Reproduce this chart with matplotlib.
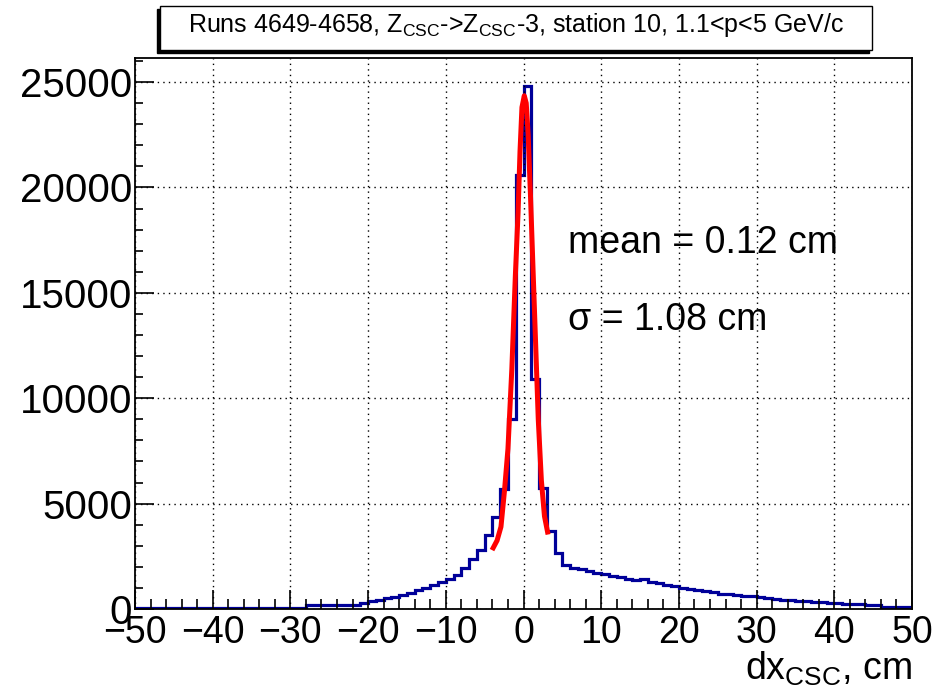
import numpy as np
import matplotlib
matplotlib.use('Agg')
import matplotlib.pyplot as plt
from matplotlib.patches import Rectangle
from matplotlib.ticker import MultipleLocator

plt.rcParams['font.family'] = ['Liberation Sans', 'DejaVu Sans']
plt.rcParams['mathtext.fontset'] = 'custom'
plt.rcParams['mathtext.rm'] = 'Liberation Sans'
plt.rcParams['mathtext.it'] = 'Liberation Sans:italic'

# dx_CSC histogram, 1 cm bins from -50 to 50
bin_edges = np.arange(-50, 51, 1)
counts = ([60] * 22 + [170] * 7 +
          [280, 380, 440, 500, 560, 650, 780, 880, 980, 1120, 1260,
           1420, 1600, 1950, 2370, 2790, 3500, 4350, 5700, 9000, 20600,
           24830, 10930, 5760, 3700, 2650, 2100, 1950,
           1880, 1800, 1720, 1650, 1580, 1500, 1430, 1360, 1420, 1300,
           1230, 1160, 1080, 1000, 960, 900, 860, 790, 730, 700,
           660, 620, 600, 560, 530, 480, 430, 450, 400, 380,
           350, 330, 280, 270, 260, 250, 240, 190, 180, 100,
           95, 90, 90])

# fitted curve
fit_x = [-3.9, -3.4, -2.9, -2.45, -2.0, -1.5, -1.05, -0.7, -0.45, -0.2,
         0.1, 0.35, 0.6, 0.9, 1.2, 1.55, 1.9, 2.3, 2.7, 3.1]
fit_y = [2900, 3250, 3900, 5600, 7600, 11400, 15800, 18800, 21700, 23800,
         24350, 24000, 22500, 19600, 16400, 12700, 9000, 6100, 4400, 3650]

title = r'Runs 4649-4658, Z$_{\mathrm{CSC}}$->Z$_{\mathrm{CSC}}$-3, station 10, 1.1<p<5 GeV/c'
mean_text = 'mean = 0.12 cm'
sigma_text = '\u03c3 = 1.08 cm'

fig = plt.figure(figsize=(9.47, 6.95), dpi=100)
ax = fig.add_axes([135 / 947, 86 / 695, 777 / 947, 551 / 695])

ax.stairs(counts, bin_edges, color='#000099', linewidth=2.3)
ax.plot(fit_x, fit_y, color='#ff0000', linewidth=3.6)

ax.set_xlim(-50, 50)
ax.set_ylim(0, 26140)
ax.xaxis.set_major_locator(MultipleLocator(10))
ax.xaxis.set_minor_locator(MultipleLocator(2))
ax.yaxis.set_major_locator(MultipleLocator(5000))
ax.yaxis.set_minor_locator(MultipleLocator(1000))
ax.tick_params(axis='x', which='major', direction='in', length=14, width=1.2, labelsize=27, pad=4)
ax.tick_params(axis='x', which='minor', direction='in', length=7, width=1.2)
ax.tick_params(axis='y', which='major', direction='in', length=14, width=1.2, labelsize=29, pad=2)
ax.tick_params(axis='y', which='minor', direction='in', length=6, width=1.2)
ax.grid(True, which='major', color='black', linestyle=(0, (1, 3)), linewidth=1)
for s in ax.spines.values():
    s.set_linewidth(1.3)

fig.text(912 / 947, 1 - 680 / 695, r'dx$_{\mathrm{CSC}}$, cm', fontsize=27, ha='right', va='baseline')

fig.text(568 / 947, 1 - 243 / 695, mean_text, fontsize=27, ha='left', va='center')
fig.text(568 / 947, 1 - 320 / 695, sigma_text, fontsize=27, ha='left', va='center')

# title box with shadow
bx0, bx1, by0, by1 = 160 / 947, 872 / 947, 1 - 50 / 695, 1 - 6 / 695
fig.patches.append(Rectangle((bx0 - 3 / 947, by0 - 3 / 695), bx1 - bx0, by1 - by0,
                             transform=fig.transFigure, facecolor='black', edgecolor='black'))
fig.patches.append(Rectangle((bx0, by0), bx1 - bx0, by1 - by0, transform=fig.transFigure,
                             facecolor='white', edgecolor='black', linewidth=1))
fig.text((bx0 + bx1) / 2, (by0 + by1) / 2 + 0.004, title, fontsize=18, ha='center', va='center')

fig.savefig('out.png', dpi=100)
